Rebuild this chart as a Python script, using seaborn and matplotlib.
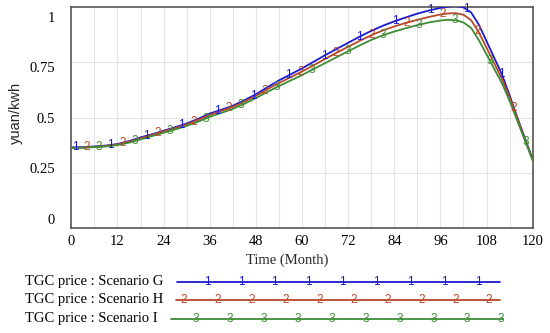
import numpy as np
import pandas as pd
import matplotlib
matplotlib.use("Agg")
import matplotlib.pyplot as plt
import seaborn as sns

# ---------------- data ----------------
months = [0, 3, 6, 9, 12, 15, 18, 21, 24, 27, 30, 33, 36, 39, 42, 45, 48, 51, 54, 57,
          60, 63, 66, 69, 72, 75, 78, 81, 84, 87, 90, 93, 96, 98, 100, 102, 104, 106,
          108, 110, 112, 114, 116, 118, 120]

scenario_g = [0.365, 0.366, 0.369, 0.373, 0.380, 0.393, 0.410, 0.424, 0.440, 0.456,
              0.473, 0.494, 0.518, 0.535, 0.553, 0.578, 0.605, 0.637, 0.668, 0.695,
              0.722, 0.752, 0.782, 0.810, 0.838, 0.866, 0.892, 0.915, 0.935, 0.953,
              0.970, 0.984, 0.996, 1.002, 1.004, 0.998, 0.975, 0.920, 0.845, 0.770,
              0.695, 0.600, 0.500, 0.405, 0.310]

scenario_h = [0.363, 0.364, 0.367, 0.371, 0.378, 0.390, 0.406, 0.421, 0.437, 0.452,
              0.469, 0.489, 0.512, 0.530, 0.548, 0.572, 0.598, 0.628, 0.656, 0.682,
              0.708, 0.736, 0.765, 0.793, 0.820, 0.847, 0.872, 0.894, 0.912, 0.928,
              0.942, 0.955, 0.966, 0.971, 0.972, 0.965, 0.940, 0.885, 0.815, 0.745,
              0.675, 0.590, 0.495, 0.400, 0.308]

scenario_i = [0.362, 0.363, 0.366, 0.369, 0.375, 0.386, 0.401, 0.416, 0.431, 0.446,
              0.462, 0.481, 0.503, 0.521, 0.539, 0.562, 0.588, 0.616, 0.642, 0.667,
              0.692, 0.719, 0.746, 0.773, 0.800, 0.826, 0.851, 0.872, 0.889, 0.904,
              0.918, 0.930, 0.939, 0.942, 0.940, 0.930, 0.905, 0.850, 0.785, 0.720,
              0.655, 0.575, 0.485, 0.395, 0.305]

series_names = ["TGC price : Scenario G", "TGC price : Scenario H", "TGC price : Scenario I"]
series_tags = ["1", "2", "3"]
x_ticks = [0, 12, 24, 36, 48, 60, 72, 84, 96, 108, 120]
y_tick_labels = ["0", "0.25", "0.5", "0.75", "1"]

colors = ["#1a1ad2", "#b8482a", "#3e8c36"]

# ---------------- style ----------------
sns.set_style("white")
plt.rcParams["font.family"] = ["Liberation Serif", "DejaVu Serif"]
plt.rcParams["font.size"] = 10.5
SANS = ["Liberation Sans", "DejaVu Sans"]

df = pd.DataFrame({
    "month": months * 3,
    "value": scenario_g + scenario_h + scenario_i,
    "series": sum([[n] * len(months) for n in series_names], []),
})

fig = plt.figure(figsize=(5.5, 3.33), dpi=100)
ax = fig.add_axes([71.3 / 550, 1 - 228 / 333, (532.7 - 71.3) / 550, (228 - 7) / 333])

# grid
for gx in range(6, 120, 6):
    ax.axvline(gx, color="#e4e4e4", lw=0.8, zorder=0)
for gy in [0.25, 0.5, 0.75]:
    ax.axhline(gy, color="#e4e4e4", lw=0.8, zorder=0)

sns.lineplot(data=df, x="month", y="value", hue="series", palette=colors,
             hue_order=series_names, linewidth=1.3, legend=False, ax=ax, zorder=3)

# numbered markers along the curves
vals = [scenario_g, scenario_h, scenario_i]
step = 9.245
for i, (v, tag, c) in enumerate(zip(vals, series_tags, colors)):
    start = 1.0 + i * step / 3
    pos = np.arange(start, 120, step)
    yv = np.interp(pos, months, v)
    for px, py in zip(pos, yv):
        ax.text(px, py, tag, color=c, fontsize=8.5, ha="center", va="center",
                family=SANS, zorder=4)

ax.set_xlim(0, 120)
ax.set_ylim(0, 1)
ax.set_xticks(x_ticks)
ax.set_xticklabels([str(t) for t in x_ticks])
# Vensim style: labels evenly spread slightly inside the range
ax.set_yticks([0.042, 0.270, 0.497, 0.729, 0.956])
ax.set_yticklabels(y_tick_labels)
ax.tick_params(axis="both", length=0, labelsize=10.5, colors="black")
ax.tick_params(axis="y", pad=12)
ax.tick_params(axis="x", pad=5)
ax.set_xlabel("Time (Month)", fontsize=10.5, labelpad=2)
ax.set_ylabel("yuan/kwh", fontsize=10.5, family=SANS)
ax.xaxis.set_label_coords(0.4675, -0.115)
ax.yaxis.set_label_coords(-0.104, 0.52)
for s in ax.spines.values():
    s.set_color("#555555")
    s.set_linewidth(1.2)

# ---------------- custom legend below ----------------
lax = fig.add_axes([0, 0, 1, 1])
lax.set_xlim(0, 550)
lax.set_ylim(333, 0)
lax.axis("off")
row_y = [281.7, 300.0, 318.5]
line_x0 = [177, 176, 171]
line_x1 = [500, 500, 503]
tag_x0 = [207, 184, 196]
tag_n = [9, 10, 10]
for name, tag, c, y, x0, x1, tx, n in zip(series_names, series_tags, colors, row_y,
                                          line_x0, line_x1, tag_x0, tag_n):
    lax.text(25, y, name, fontsize=10.5, ha="left", va="center", color="black")
    lax.plot([x0, x1], [y, y], color=c, lw=1.3)
    for k in range(n):
        lax.text(tx + 33.9 * k, y, tag, color=c, fontsize=8.5, ha="center", va="center",
                 family=SANS)

fig.savefig("out.png", dpi=100)
